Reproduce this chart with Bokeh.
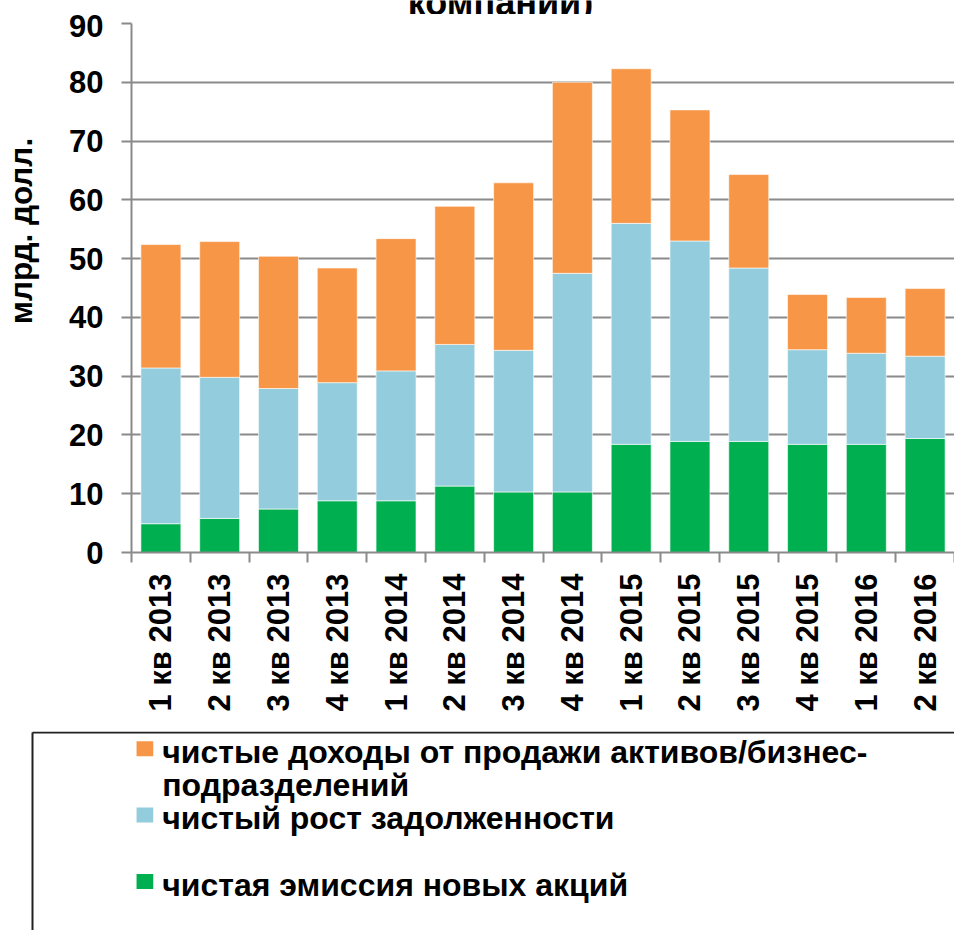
import math
from bokeh.plotting import figure
from bokeh.models import Range1d, FixedTicker, ColumnDataSource
from bokeh.layouts import column
from bokeh.core.properties import value
from bokeh.embed import file_html
from bokeh.resources import INLINE

# ---- data ----
quarters = ["1 кв 2013", "2 кв 2013", "3 кв 2013", "4 кв 2013",
            "1 кв 2014", "2 кв 2014", "3 кв 2014", "4 кв 2014",
            "1 кв 2015", "2 кв 2015", "3 кв 2015", "4 кв 2015",
            "1 кв 2016", "2 кв 2016"]
equity = [4.9, 5.8, 7.4, 8.8, 8.8, 11.3, 10.3, 10.3, 18.4, 18.9, 18.9, 18.4, 18.4, 19.4]
debt = [26.5, 24.0, 20.5, 20.1, 22.1, 24.1, 24.1, 37.2, 37.6, 34.1, 29.5, 16.1, 15.5, 14.0]
asset_sales = [21.0, 23.1, 22.5, 19.5, 22.5, 23.5, 28.5, 32.5, 26.3, 22.3, 15.9, 9.4, 9.5, 11.5]
y_ticks = [0, 10, 20, 30, 40, 50, 60, 70, 80, 90]

series_keys = ["equity", "debt", "asset_sales"]
series_colors = ["#00B050", "#93CDDD", "#F79646"]
# legend text per series (same order as series_keys), as wrapped lines
legend_lines = [["чистая эмиссия новых акций"],
                ["чистый рост задолженности"],
                ["чистые доходы от продажи активов/бизнес-", "подразделений"]]
legend_order = [2, 1, 0]          # top to bottom
title_tail = "компаний)"
y_label = "млрд. долл."

GRAY = "#8a8a8a"
FONT = "Liberation Sans"
W = 954
H_TITLE, H_CHART, H_LEG = 14, 717, 199
FL, FT = 131, 9           # frame left / top (px, inside the chart figure)
FH = 529                  # frame height (px)
FB = FT + FH
Y_MAX = 90

x_pos = list(range(len(quarters)))
src = ColumnDataSource(dict(x=x_pos, equity=equity, debt=debt, asset_sales=asset_sales))
xr = Range1d(-0.5, len(quarters) - 0.5)
yr = Range1d(0, Y_MAX)

# ---- title strip: only the lower part of the title's last line shows ----
tf = figure(width=W, height=H_TITLE, x_range=Range1d(0, W), y_range=Range1d(H_TITLE, 0),
            x_axis_type=None, y_axis_type=None, output_backend="svg",
            toolbar_location=None, min_border=0)
tf.outline_line_color = None
tf.grid.visible = False
tf.border_fill_color = "white"
tf.background_fill_color = "white"
tf.text(x=[500], y=[2], text=[title_tail], text_font=value(FONT), text_font_style="bold",
        text_font_size="36px", text_align="center", text_baseline="alphabetic",
        text_color="black")

# ---- chart ----
p = figure(width=W, height=H_CHART, x_range=xr, y_range=yr,
           output_backend="svg", toolbar_location=None,
           min_border_left=FL, min_border_right=0, min_border_top=FT,
           min_border_bottom=H_CHART - FB)
p.outline_line_color = None
p.background_fill_color = "white"
p.border_fill_color = "white"

p.vbar_stack(series_keys, x="x", width=0.68, color=series_colors, source=src,
             line_color="white", line_alpha=0.6, line_width=1)

# grid
p.xgrid.visible = False
p.ygrid.grid_line_color = GRAY
p.ygrid.grid_line_width = 2

# y axis
ya = p.yaxis[0]
ya.ticker = FixedTicker(ticks=y_ticks)
ya.axis_line_color = GRAY
ya.axis_line_width = 2
ya.major_tick_line_color = GRAY
ya.major_tick_line_width = 2
ya.major_tick_out = 10
ya.major_tick_in = 0
ya.minor_tick_out = 0
ya.minor_tick_in = 0
ya.major_label_standoff = 18
ya.major_label_text_font = FONT
ya.major_label_text_font_style = "bold"
ya.major_label_text_font_size = "31px"
ya.major_label_text_color = "black"
# leading no-break spaces lift the (centred) title up, as in the original
ya.axis_label = "\u00a0" * 13 + y_label
ya.axis_label_text_font = FONT
ya.axis_label_text_font_style = "bold"
ya.axis_label_text_font_size = "31.5px"
ya.axis_label_text_color = "black"
ya.axis_label_standoff = 27

# x axis
xa = p.xaxis[0]
xa.ticker = FixedTicker(ticks=x_pos, minor_ticks=[i - 0.5 for i in range(len(quarters) + 1)])
xa.major_label_overrides = {i: q for i, q in enumerate(quarters)}
xa.major_label_orientation = math.pi / 2
xa.axis_line_color = GRAY
xa.axis_line_width = 2
xa.major_tick_out = 0
xa.major_tick_in = 0
xa.minor_tick_out = 10
xa.minor_tick_in = 0
xa.minor_tick_line_color = GRAY
xa.minor_tick_line_width = 2
xa.major_label_standoff = 11
xa.major_label_text_font = FONT
xa.major_label_text_font_style = "bold"
xa.major_label_text_font_size = "31px"
xa.major_label_text_color = "black"

# ---- legend panel (pixel coordinates, y downward) ----
lg = figure(width=W, height=H_LEG, x_range=Range1d(0, W), y_range=Range1d(H_LEG, 0),
            x_axis_type=None, y_axis_type=None, output_backend="svg",
            toolbar_location=None, min_border=0)
lg.outline_line_color = None
lg.grid.visible = False
lg.border_fill_color = "white"
lg.background_fill_color = "white"

for fig in (tf, p, lg):
    if "frame_align" in fig.properties():
        fig.frame_align = False

box_left, box_top = 32, 1
lg.segment(x0=[box_left, box_left], y0=[box_top, box_top], x1=[W, box_left], y1=[box_top, H_LEG],
           line_color="#202020", line_width=2)

sq_cx, sq_w, sq_h = 144.4, 16.7, 15
sq_cy0, item_pitch, line_pitch = 17.2, 66.4, 32.8
text_x, base_dy = 161.7, 3.0
sx, sy, sc, tx, ty, tt = [], [], [], [], [], []
for k, si in enumerate(legend_order):
    cy = sq_cy0 + k * item_pitch
    sx.append(sq_cx); sy.append(cy); sc.append(series_colors[si])
    for j, line in enumerate(legend_lines[si]):
        tx.append(text_x); ty.append(cy + base_dy + j * line_pitch); tt.append(line)
lg.rect(x=sx, y=sy, width=sq_w, height=sq_h, fill_color=sc, line_color=None)
lg.text(x=tx, y=ty, text=tt, text_font=value(FONT), text_font_style="bold",
        text_font_size="32px", text_baseline="alphabetic", text_align="left",
        text_color="black")

layout = column(tf, p, lg, spacing=0)
open("out.html", "w").write(file_html(layout, INLINE))
